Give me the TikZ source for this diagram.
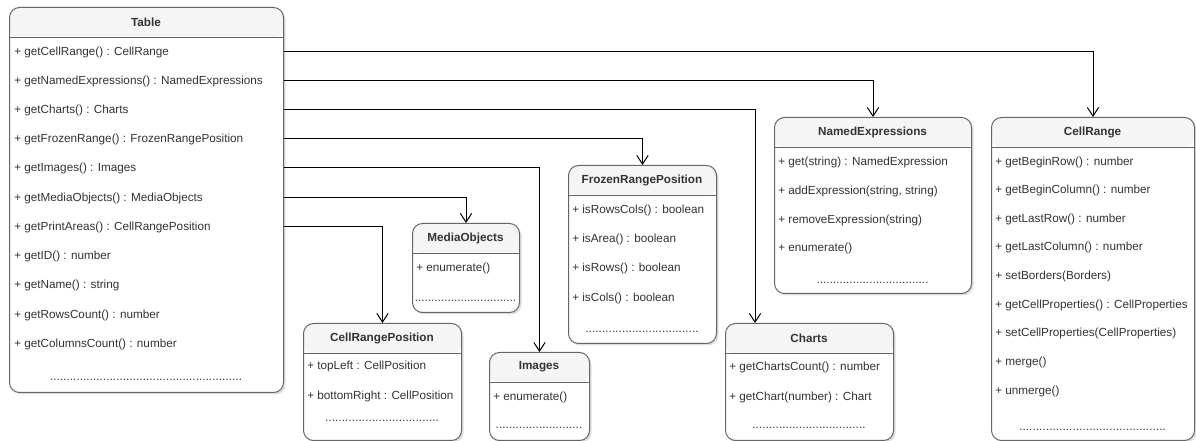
\documentclass[tikz,border=0pt]{standalone}
\usepackage{fontspec}
\setmainfont{Liberation Sans}
\usetikzlibrary{arrows.meta, positioning, shadows}

\definecolor{umltext}{HTML}{333333}
\definecolor{umlline}{HTML}{666666}
\definecolor{umlhead}{HTML}{F5F5F5}

\newcommand{\dotrow}[1]{\hbox to #1{\xleaders\hbox{.}\hfill}}

\begin{document}
\begin{tikzpicture}[
    x=0.75pt, y=-0.75pt,
    every node/.style={font=\fontsize{8.8}{10.5}\selectfont, text=umltext},
    classbox/.style 2 args={draw=umlline, line width=0.75pt, fill=white, rounded corners=7.5pt,
        anchor=north west, inner sep=0pt, minimum width=#1*0.75pt, minimum height=#2*0.75pt,
        drop shadow={shadow xshift=1.5pt, shadow yshift=-1.5pt, opacity=0.25, fill=black!50},
        path picture={
            \fill[umlhead] (path picture bounding box.north west) rectangle ([yshift=-22.5pt]path picture bounding box.north east);
            \draw[umlline, line width=1pt] ([yshift=-22.5pt]path picture bounding box.north west) -- ([yshift=-22.5pt]path picture bounding box.north east);
        }},
    title/.style={font=\fontsize{8.8}{10.5}\selectfont\bfseries, inner sep=0pt},
    member/.style={anchor=west, inner sep=0pt},
    dots/.style={inner sep=0pt},
    arrow/.style={-{Straight Barb[length=6.5pt, width=8.5pt]}, line width=0.75pt, black}
]
\useasboundingbox (0,0) rectangle (1196,441);

% Table
\node[classbox={274}{385}] (tbl) at (9,7) {};
\node[title] (tbl-t) at (146,22) {Table};
\node[member] (tbl-1) at (14,52) {+ getCellRange() : CellRange};
\node[member] (tbl-2) at (14,81) {+ getNamedExpressions() : NamedExpressions};
\node[member] (tbl-3) at (14,110) {+ getCharts() : Charts};
\node[member] (tbl-4) at (14,139) {+ getFrozenRange() : FrozenRangePosition};
\node[member] (tbl-5) at (14,168) {+ getImages() : Images};
\node[member] (tbl-6) at (14,198) {+ getMediaObjects() : MediaObjects};
\node[member] (tbl-7) at (14,227) {+ getPrintAreas() : CellRangePosition};
\node[member] (tbl-8) at (14,256) {+ getID() : number};
\node[member] (tbl-9) at (14,285) {+ getName() : string};
\node[member] (tbl-10) at (14,315) {+ getRowsCount() : number};
\node[member] (tbl-11) at (14,344) {+ getColumnsCount() : number};
\node[dots] (tbl-d) at (146,380) {\dotrow{144pt}};

% MediaObjects
\node[classbox={107}{89}] (media) at (412,223) {};
\node[title] (media-t) at (465.5,238) {MediaObjects};
\node[member] (media-1) at (416,268) {+ enumerate()};
\node[dots] (media-d) at (465.5,301) {\dotrow{76pt}};

% CellRangePosition
\node[classbox={158}{117}] (crpos) at (303,323) {};
\node[title] (crpos-t) at (382,338) {CellRangePosition};
\node[member] (crpos-1) at (307,366) {+ topLeft : CellPosition};
\node[member] (crpos-2) at (307,396) {+ bottomRight : CellPosition};
\node[dots] (crpos-d) at (382,421) {\dotrow{85.5pt}};

% Images
\node[classbox={100}{88}] (images) at (489,352) {};
\node[title] (images-t) at (539,367) {Images};
\node[member] (images-1) at (493,397) {+ enumerate()};
\node[dots] (images-d) at (539,428) {\dotrow{65pt}};

% FrozenRangePosition
\node[classbox={148}{178}] (frozen) at (568,165) {};
\node[title] (frozen-t) at (642,180) {FrozenRangePosition};
\node[member] (frozen-1) at (572,210) {+ isRowsCols() : boolean};
\node[member] (frozen-2) at (572,239) {+ isArea() : boolean};
\node[member] (frozen-3) at (572,268) {+ isRows() : boolean};
\node[member] (frozen-4) at (572,298) {+ isCols() : boolean};
\node[dots] (frozen-d) at (642,332) {\dotrow{85pt}};

% NamedExpressions
\node[classbox={197}{176}] (namedexpr) at (774,117) {};
\node[title] (namedexpr-t) at (872.5,132) {NamedExpressions};
\node[member] (namedexpr-1) at (778,162) {+ get(string) : NamedExpression};
\node[member] (namedexpr-2) at (778,191) {+ addExpression(string, string)};
\node[member] (namedexpr-3) at (778,220) {+ removeExpression(string)};
\node[member] (namedexpr-4) at (778,248) {+ enumerate()};
\node[dots] (namedexpr-d) at (872.5,283) {\dotrow{84pt}};

% Charts
\node[classbox={168}{117}] (charts) at (725,323) {};
\node[title] (charts-t) at (809,338) {Charts};
\node[member] (charts-1) at (729,367) {+ getChartsCount() : number};
\node[member] (charts-2) at (729,397) {+ getChart(number) : Chart};
\node[dots] (charts-d) at (809,428) {\dotrow{85pt}};

% CellRange
\node[classbox={203}{323}] (cellrange) at (991,117) {};
\node[title] (cellrange-t) at (1092.5,132) {CellRange};
\node[member] (cellrange-1) at (995,162) {+ getBeginRow() : number};
\node[member] (cellrange-2) at (995,190) {+ getBeginColumn() : number};
\node[member] (cellrange-3) at (995,219) {+ getLastRow() : number};
\node[member] (cellrange-4) at (995,247) {+ getLastColumn() : number};
\node[member] (cellrange-5) at (995,276) {+ setBorders(Borders)};
\node[member] (cellrange-6) at (995,305) {+ getCellProperties() : CellProperties};
\node[member] (cellrange-7) at (995,333) {+ setCellProperties(CellProperties)};
\node[member] (cellrange-8) at (995,362) {+ merge()};
\node[member] (cellrange-9) at (995,391) {+ unmerge()};
\node[dots] (cellrange-d) at (1092.5,430) {\dotrow{110pt}};

\draw[arrow] (tbl-1 -| tbl.east) -| (cellrange.north);
\draw[arrow] (tbl-2 -| tbl.east) -| (namedexpr.north);
\draw[arrow] (tbl-3 -| tbl.east) -| ([xshift=22.5pt]charts.north west);
\draw[arrow] (tbl-4 -| tbl.east) -| (frozen.north);
\draw[arrow] (tbl-5 -| tbl.east) -| (images.north);
\draw[arrow] (tbl-6 -| tbl.east) -| (media.north);
\draw[arrow] (tbl-7 -| tbl.east) -| (crpos.north);
\end{tikzpicture}
\end{document}
